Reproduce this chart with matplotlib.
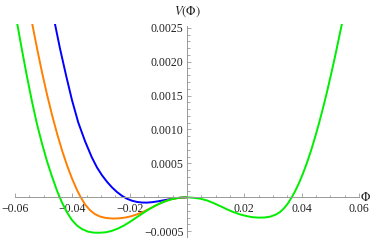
import matplotlib
matplotlib.use("Agg")
import matplotlib.pyplot as plt
from matplotlib.ticker import FixedLocator, MultipleLocator, FuncFormatter

# values
phi_blue = [-0.04606, -0.04431, -0.04222, -0.04013, -0.03793, -0.03559, -0.03325,
            -0.03140, -0.02966, -0.02791, -0.02617, -0.02442, -0.02268, -0.02094,
            -0.01919, -0.01745, -0.01570, -0.01396, -0.01221, -0.01012, -0.00803,
            -0.00593, -0.00384, -0.00174, 0.0]
v_blue = [0.002556, 0.002195, 0.001804, 0.001435, 0.001103, 0.000830, 0.000594,
          0.000440, 0.000326, 0.000229, 0.000147, 0.000078, 0.000022, -0.000021,
          -0.000050, -0.000068, -0.000077, -0.000078, -0.000072, -0.000059, -0.000043,
          -0.000027, -0.000013, -0.000004, 0.0]

phi_orange = [-0.05398, -0.05223, -0.05049, -0.04874, -0.04700, -0.04525, -0.04351,
              -0.04177, -0.04002, -0.03828, -0.03733, -0.03559, -0.03385, -0.03210,
              -0.03036, -0.02826, -0.02582, -0.02373, -0.02163, -0.01954, -0.01745,
              -0.01525, -0.01291, -0.01047, -0.00803, -0.00558, -0.00314, 0.0]
v_orange = [0.002556, 0.002178, 0.001826, 0.001500, 0.001201, 0.000928, 0.000681,
            0.000462, 0.000267, 0.000100, 0.000021, -0.000103, -0.000190, -0.000248,
            -0.000283, -0.000305, -0.000313, -0.000310, -0.000299, -0.000280, -0.000252,
            -0.000214, -0.000164, -0.000111, -0.000063, -0.000029, -0.000009, 0.0]

phi_green = [-0.05921, -0.05757, -0.05583, -0.05408, -0.05234, -0.05059, -0.04885,
             -0.04710, -0.04536, -0.04361, -0.04187, -0.04013, -0.03838, -0.03664,
             -0.03454, -0.03245, -0.03036, -0.02826, -0.02617, -0.02408, -0.02198,
             -0.01989, -0.01779, -0.01570, -0.01361, -0.01151, -0.00942, -0.00733,
             -0.00523, -0.00314, -0.00140, 0.0, 0.00209, 0.00454, 0.00698, 0.00918,
             0.01151, 0.01396, 0.01605, 0.01849, 0.02083, 0.02268, 0.02477, 0.02687,
             0.02896, 0.03105, 0.03245, 0.03385, 0.03524, 0.03653, 0.03768, 0.03908,
             0.04048, 0.04187, 0.04327, 0.04466, 0.04606, 0.04745, 0.04885, 0.05024,
             0.05164, 0.05303, 0.05408]
v_green = [0.002556, 0.002173, 0.001782, 0.001413, 0.001081, 0.000794, 0.000535,
           0.000307, 0.000100, -0.000077, -0.000221, -0.000335, -0.000416, -0.000468,
           -0.000506, -0.000521, -0.000522, -0.000515, -0.000494, -0.000460, -0.000416,
           -0.000361, -0.000302, -0.000243, -0.000186, -0.000134, -0.000090, -0.000055,
           -0.000027, -0.000009, -0.000001, 0.0, -0.000006, -0.000019, -0.000046, -0.000083,
           -0.000128, -0.000177, -0.000215, -0.000252, -0.000277, -0.000292, -0.000299,
           -0.000298, -0.000286, -0.000254, -0.000217, -0.000162, -0.000088, 0.0,
           0.000087, 0.000211, 0.000353, 0.000512, 0.000689, 0.000883, 0.001093,
           0.001317, 0.001556, 0.001810, 0.002075, 0.002353, 0.002565]

x_ticks = [-0.06, -0.04, -0.02, 0.02, 0.04, 0.06]
y_ticks = [-0.0005, 0.0005, 0.0010, 0.0015, 0.0020, 0.0025]

plt.rcParams['font.family'] = ['Liberation Serif', 'DejaVu Serif']
plt.rcParams['mathtext.fontset'] = 'stix'

fig = plt.figure(figsize=(3.75, 2.43), dpi=100)
ax = fig.add_axes([0.04, 0.0247, 0.9173, 0.8778])

ax.plot(phi_blue, v_blue, color='#0000ff', lw=1.4)
ax.plot(phi_orange, v_orange, color='#ff8000', lw=1.4)
ax.plot(phi_green, v_green, color='#00ee00', lw=1.4)

ax.set_xlim(-0.06, 0.06)
ax.set_ylim(-0.000585, 0.00256)

for s in ['top', 'right']:
    ax.spines[s].set_visible(False)
ax.spines['left'].set_position(('data', 0))
ax.spines['bottom'].set_position(('data', 0))
ax.spines['left'].set_bounds(-0.00058, 0.00253)
for s in ['left', 'bottom']:
    ax.spines[s].set_color('#999999')
    ax.spines[s].set_linewidth(0.7)

ax.xaxis.set_major_locator(FixedLocator(x_ticks))
ax.yaxis.set_major_locator(FixedLocator(y_ticks))
ax.xaxis.set_minor_locator(MultipleLocator(0.005))
ax.yaxis.set_minor_locator(MultipleLocator(0.0001))
ax.xaxis.set_major_formatter(FuncFormatter(lambda v, p: f"{v:.2f}".replace('-', '\u2212')))
ax.yaxis.set_major_formatter(FuncFormatter(lambda v, p: f"{v:.4f}".replace('-', '\u2212')))

ax.tick_params(which='both', direction='in', color='#999999', width=0.6,
               labelsize=8.5, labelcolor='#222222')
ax.tick_params(which='major', length=3.0)
ax.tick_params(which='minor', length=1.8)
ax.tick_params(axis='x', pad=4)
ax.tick_params(axis='y', pad=2.5)

ax.text(0, 1.02, r"$V(\Phi)$", transform=ax.get_xaxis_transform(),
        ha='center', va='bottom', fontsize=9, color='#222222')
ax.text(1.018, 0, r"$\Phi$", transform=ax.get_yaxis_transform(),
        ha='center', va='center', fontsize=9, color='#222222')

fig.savefig("out.png", dpi=100)
plt.close(fig)
